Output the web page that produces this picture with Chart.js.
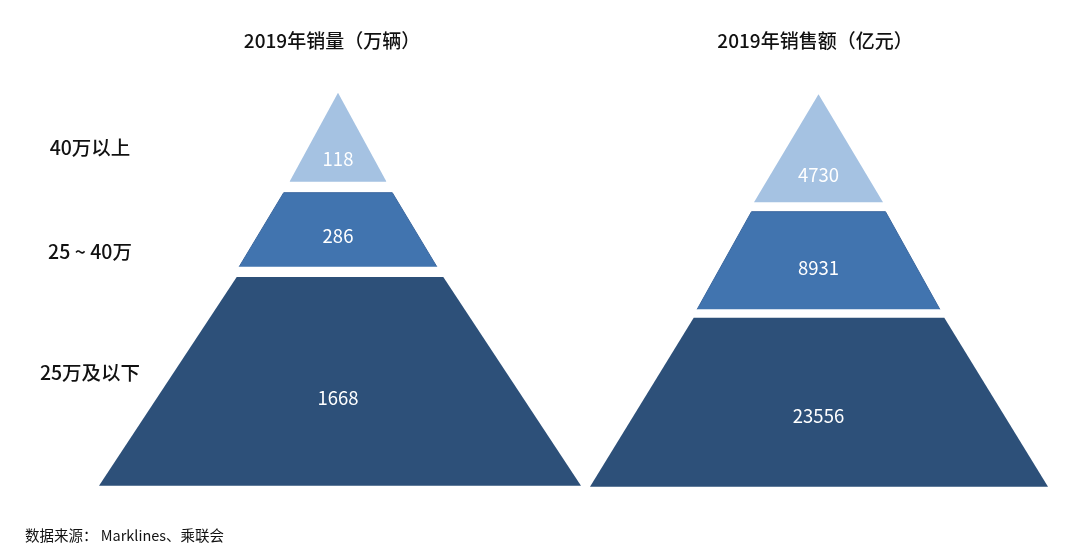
<!DOCTYPE html>
<html lang="zh-CN">
<head>
<meta charset="utf-8">
<title>2019年销量与销售额</title>
<script src="https://cdn.jsdelivr.net/npm/chart.js@4.4.1/dist/chart.umd.min.js"></script>
<style>
  html, body { margin: 0; padding: 0; background: #fff; }
  #wrap { width: 1080px; height: 545px; }
</style>
</head>
<body>
<div id="wrap"><canvas id="pyramid" width="1080" height="545"></canvas></div>
<script>
// 数据
const segments = ['40万以上', '25 ~ 40万', '25万及以下'];
const volume = [118, 286, 1668];       // 2019年销量（万辆）
const revenue = [4730, 8931, 23556];   // 2019年销售额（亿元）
const chartTitles = ['2019年销量（万辆）', '2019年销售额（亿元）'];
const sourceNote = '数据来源： Marklines、乘联会';

// 颜色：由上到下
const layerColors = ['#a5c2e2', '#4174af', '#2d5079'];
const layerBorders = [null, '#3a679f', null];

// 外形布局（画布坐标，与数据无关）
const pyramidLayout = [
    { cx: 338, titleX: 332, layers: [
        { top: 92.7, bottom: 181.7, halfTop: 0, halfBottom: 48.5 },
        { top: 192.7, bottom: 266.7, halfTop: 54.3, halfBottom: 98.8 },
        { top: 277, bottom: 485.7, halfTop: 103.3, halfBottom: 241, shift: 2 }
    ]},
    { cx: 818.5, titleX: 815, layers: [
        { top: 94.3, bottom: 202.3, halfTop: 0, halfBottom: 64.5 },
        { top: 211.7, bottom: 309.3, halfTop: 67, halfBottom: 121.3 },
        { top: 317.7, bottom: 486.7, halfTop: 125.3, halfBottom: 229, shift: 0.5 }
    ]}
];
const titleY = 41;
const segmentLabelX = 90;
const segmentLabelY = [148, 252, 373];
const FONT = '"Noto Sans CJK SC", "Noto Sans", sans-serif';

const seriesList = [volume, revenue];

// 每一层做成一个折线数据集，填充到底边，得到梯形/三角形
const datasets = [];
pyramidLayout.forEach((pyr, p) => {
    pyr.layers.forEach((ly, i) => {
        const cx = pyr.cx + (ly.shift || 0);
        const pts = [
            { x: cx - ly.halfBottom, y: ly.bottom },
            { x: cx - ly.halfTop, y: ly.top }
        ];
        if (ly.halfTop > 0) pts.push({ x: cx + ly.halfTop, y: ly.top });
        pts.push({ x: cx + ly.halfBottom, y: ly.bottom });
        datasets.push({
            type: 'line',
            label: segments[i],
            data: pts,
            value: seriesList[p][i],
            layer: ly,
            cx: pyr.cx,
            isTriangle: ly.halfTop === 0,
            backgroundColor: layerColors[i],
            borderColor: layerBorders[i] || layerColors[i],
            borderWidth: layerBorders[i] ? 1 : 0,
            fill: { value: ly.bottom },
            pointRadius: 0,
            tension: 0
        });
    });
});

const textPlugin = {
    id: 'pyramidText',
    afterDatasetsDraw(chart) {
        const ctx = chart.ctx;
        const xs = chart.scales.x, ys = chart.scales.y;
        ctx.save();
        ctx.textAlign = 'center';
        ctx.textBaseline = 'middle';

        // 数值标签
        ctx.fillStyle = '#ffffff';
        ctx.font = '18.5px ' + FONT;
        chart.data.datasets.forEach(ds => {
            const frac = ds.isTriangle ? 0.75 : 0.58;
            const yVal = ds.layer.top + frac * (ds.layer.bottom - ds.layer.top);
            ctx.fillText(String(ds.value), xs.getPixelForValue(ds.cx), ys.getPixelForValue(yVal));
        });

        // 标题
        ctx.fillStyle = '#111111';
        ctx.font = '500 19px ' + FONT;
        chartTitles.forEach((t, p) => {
            ctx.fillText(t, xs.getPixelForValue(pyramidLayout[p].titleX), ys.getPixelForValue(titleY));
        });

        // 左侧分类
        ctx.font = '500 19.5px ' + FONT;
        segments.forEach((s, i) => {
            ctx.fillText(s, xs.getPixelForValue(segmentLabelX), ys.getPixelForValue(segmentLabelY[i]));
        });

        // 数据来源
        ctx.textAlign = 'left';
        ctx.font = '14.5px ' + FONT;
        ctx.fillText(sourceNote, xs.getPixelForValue(25), ys.getPixelForValue(535));
        ctx.restore();
    }
};

new Chart(document.getElementById('pyramid'), {
    type: 'line',
    data: { datasets: datasets },
    options: {
        responsive: false,
        animation: false,
        events: [],
        layout: { padding: 0 },
        scales: {
            x: { type: 'linear', min: 0, max: 1080, display: false },
            y: { type: 'linear', min: 0, max: 545, reverse: true, display: false }
        },
        plugins: {
            legend: { display: false },
            tooltip: { enabled: false }
        }
    },
    plugins: [textPlugin]
});
</script>
</body>
</html>
